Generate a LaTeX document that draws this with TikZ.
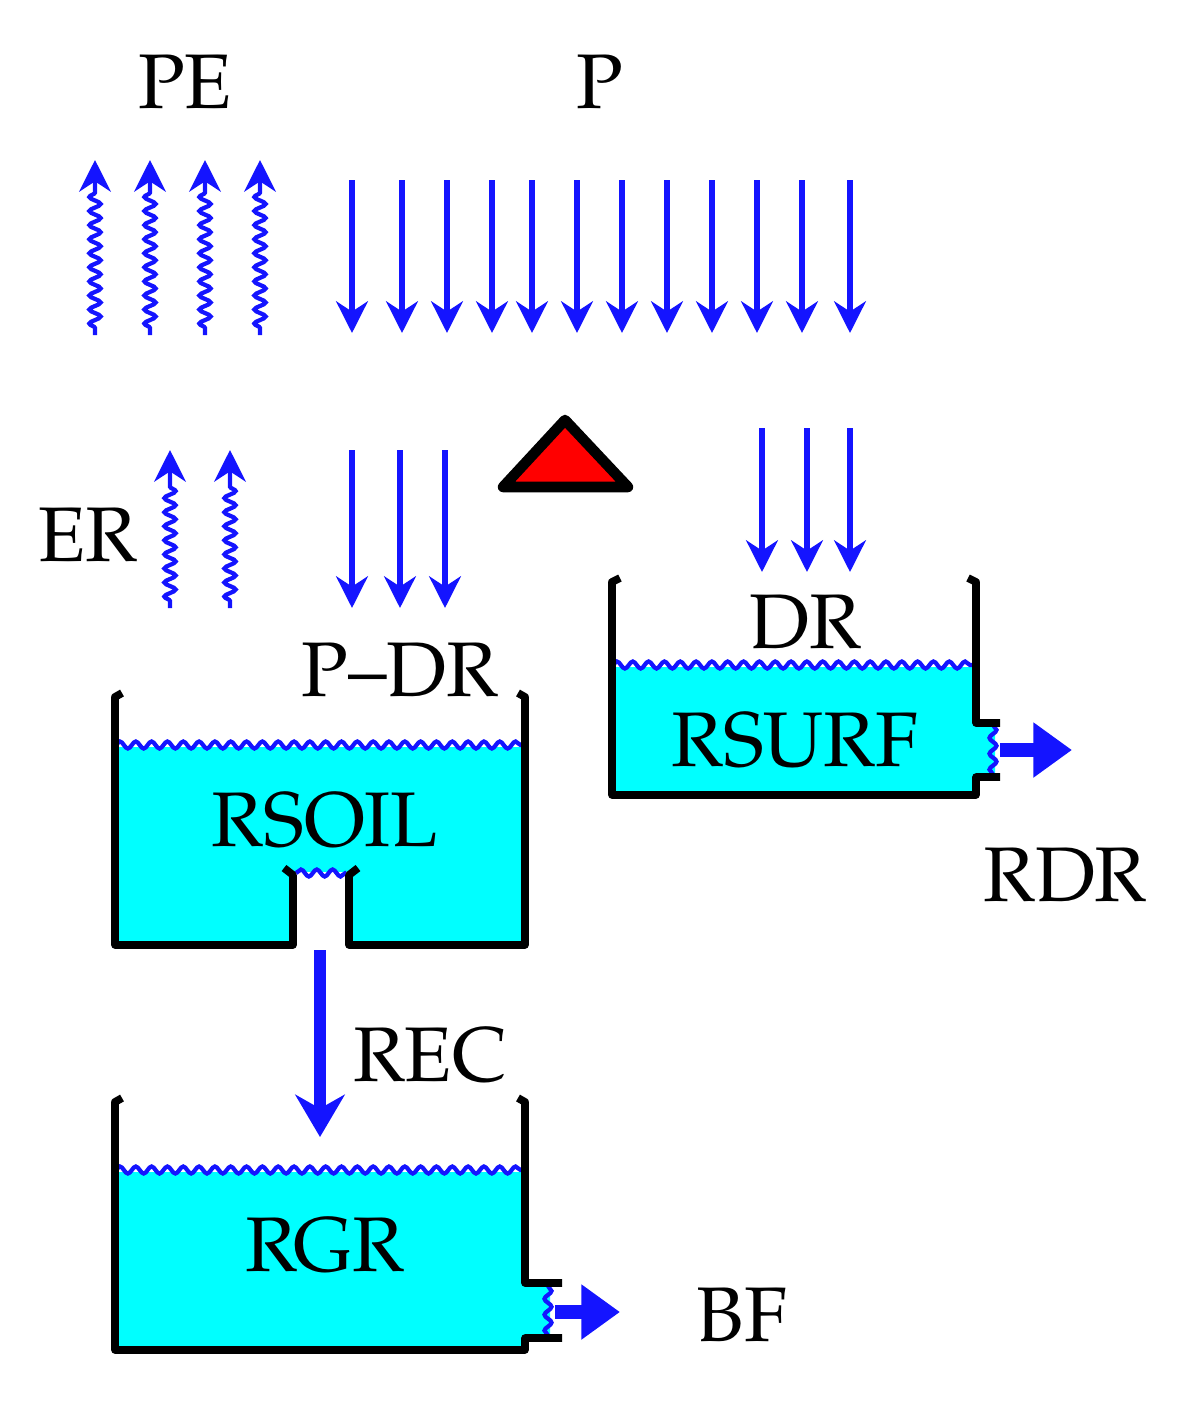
\documentclass[tikz,border=0pt]{standalone}
\usepackage{fontspec}
\setmainfont{TeX Gyre Pagella}
\usetikzlibrary{arrows.meta,decorations.pathmorphing}
\definecolor{water}{RGB}{0,255,255}
\definecolor{flow}{RGB}{20,20,255}
\tikzset{
  lbl/.style={font=\fontsize{22}{26}\selectfont},
  rain/.style={flow, line width=1.6pt, -{Stealth[length=9pt,width=9pt]}},
  vapour/.style={flow, line width=1.2pt, -{Stealth[length=9pt,width=9pt]},
    decorate, decoration={snake, amplitude=1.6pt, segment length=4pt, pre length=2pt, post length=9pt}},
  wave/.style={flow, line width=1.2pt, decorate, decoration={snake, amplitude=1pt, segment length=4.5pt}},
  wall/.style={black, line width=2.2pt, line join=round},
  outflow/.style={flow, line width=4pt, -{Triangle[length=11pt,width=15pt]}}
}
\begin{document}
\begin{tikzpicture}[x=0.01cm,y=-0.01cm]
    \useasboundingbox (0,0) rectangle (1187,1414);
    % labels
    \node[lbl] at (185,82) (PE) {PE};
    \node[lbl] at (600,82) (P) {P};
    \node[lbl] at (88,535) (ER) {ER};
    \node[lbl] at (400,670) (PDR) {P--DR};
    \node[lbl] at (805,622) (DR) {DR};
    \node[lbl] at (1065,875) (RDR) {RDR};
    \node[lbl] at (430,1055) (REC) {REC};
    \node[lbl] at (742,1315) (BF) {BF};
    % evaporation
    \foreach \x in {95,150,205,260}
        \draw[vapour] (\x,335) -- (\x,160);
    \foreach \x in {170,230}
        \draw[vapour] (\x,608) -- (\x,450);
    % rainfall
    \foreach \x in {352,402,447,492,532,577,622,667,712,757,802,850}
        \draw[rain] (\x,180) -- (\x,333);
    \foreach \x in {352,400,445}
        \draw[rain] (\x,450) -- (\x,608);
    \foreach \x in {762,807,850}
        \draw[rain] (\x,428) -- (\x,572);
    % threshold
    \draw[black, line width=3pt, fill=red, line join=round] (503,487) -- (565,420) -- (628,487) -- cycle;
    % RSURF
    \fill[water] (612,667) -- (976,667) -- (976,723) -- (995,723) -- (995,777) -- (976,777) -- (976,795) -- (612,795) -- cycle;
    \draw[wave] (612,665) -- (976,665);
    \draw[wave] (993,725) -- (993,776);
    \draw[wall] (620,578) -- (612,582) -- (612,795) -- (976,795) -- (976,777) -- (1000,777);
    \draw[wall] (1000,723) -- (976,723) -- (976,582) -- (968,578);
    \node[lbl] at (795,740) (RSURF) {RSURF};
    \draw[outflow] (1000,750) -- (1072,750);
    % RSOIL
    \fill[water] (115,747) rectangle (525,945);
    \fill[white] (292,872) rectangle (350,950);
    \draw[wave] (115,745) -- (525,745);
    \draw[wave] (296,873) -- (346,873);
    \draw[wall] (122,693) -- (115,697) -- (115,945) -- (293,945) -- (293,875) -- (284,868);
    \draw[wall] (358,868) -- (349,875) -- (349,945) -- (525,945) -- (525,697) -- (518,693);
    \node[lbl] at (325,820) (RSOIL) {RSOIL};
    \draw[rain, line width=3.5pt, -{Stealth[length=12pt,width=14pt]}] (320,950) -- (320,1137);
    % RGR
    \fill[water] (115,1172) -- (525,1172) -- (525,1283) -- (550,1283) -- (550,1337) -- (525,1337) -- (525,1350) -- (115,1350) -- cycle;
    \draw[wave] (115,1170) -- (525,1170);
    \draw[wave] (548,1286) -- (548,1336);
    \draw[wall] (122,1098) -- (115,1102) -- (115,1350) -- (525,1350) -- (525,1338) -- (562,1338);
    \draw[wall] (562,1283) -- (525,1283) -- (525,1102) -- (518,1098);
    \node[lbl] at (325,1245) (RGR) {RGR};
    \draw[outflow] (555,1312) -- (620,1312);
\end{tikzpicture}
\end{document}
